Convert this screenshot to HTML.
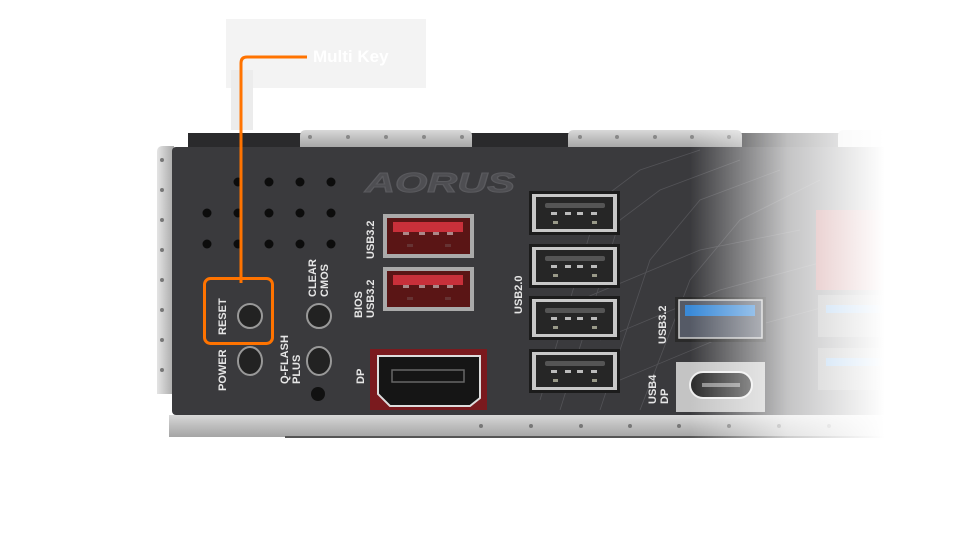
<!DOCTYPE html>
<html><head><meta charset="utf-8"><style>
html,body{margin:0;padding:0;background:#fff;width:960px;height:547px;overflow:hidden}
svg{display:block}
text{font-family:"Liberation Sans",sans-serif;font-weight:bold}
</style></head><body>
<svg width="960" height="547" viewBox="0 0 960 547" xmlns="http://www.w3.org/2000/svg">
<defs>
<linearGradient id="fade" x1="0" x2="1" y1="0" y2="0">
<stop offset="0" stop-color="#fff" stop-opacity="0"/>
<stop offset="0.5" stop-color="#fff" stop-opacity="0.7"/>
<stop offset="1" stop-color="#fff" stop-opacity="1"/>
</linearGradient>
<linearGradient id="rail" x1="0" x2="0" y1="0" y2="1">
<stop offset="0" stop-color="#d8d8d8"/><stop offset="0.5" stop-color="#bdbdbd"/><stop offset="1" stop-color="#a5a5a5"/>
</linearGradient>
<linearGradient id="flange" x1="0" x2="1">
<stop offset="0" stop-color="#e4e4e4"/><stop offset="1" stop-color="#a8a8a8"/>
</linearGradient>
<g id="usb">
<rect x="0" y="0" width="91" height="44" fill="#1c1c1c"/>
<rect x="3" y="3" width="85" height="38" fill="#c8c8c8"/>
<rect x="7" y="6" width="77" height="32" fill="#262626"/>
<rect x="16" y="12" width="60" height="5" rx="2" fill="#555"/>
<rect x="22" y="21" width="6" height="3" fill="#bbb"/><rect x="36" y="21" width="6" height="3" fill="#bbb"/><rect x="48" y="21" width="6" height="3" fill="#bbb"/><rect x="62" y="21" width="6" height="3" fill="#bbb"/>
<rect x="24" y="30" width="5" height="3" fill="#998"/><rect x="63" y="30" width="5" height="3" fill="#998"/>
</g>
<g id="rusb">
<rect x="0" y="0" width="91" height="44" fill="#aaa"/>
<rect x="4" y="4" width="83" height="36" fill="#5a1515"/>
<rect x="10" y="8" width="70" height="10" fill="#c8303a"/>
<rect x="20" y="18" width="6" height="3" fill="#a88"/><rect x="36" y="18" width="6" height="3" fill="#a88"/><rect x="50" y="18" width="6" height="3" fill="#a88"/><rect x="64" y="18" width="6" height="3" fill="#a88"/>
<rect x="24" y="30" width="6" height="3" fill="#633"/><rect x="62" y="30" width="6" height="3" fill="#633"/>
</g>
</defs>

<rect x="226" y="19" width="200" height="69" fill="#f3f3f3"/>
<rect x="231" y="70" width="22" height="60" fill="#ececec"/>

<rect x="188" y="133" width="720" height="15" fill="#2a2a2c"/>
<path d="M300 148 L300 136 Q300 130 306 130 L466 130 Q472 130 472 136 L472 148Z" fill="url(#rail)"/>
<path d="M568 148 L568 136 Q568 130 574 130 L736 130 Q742 130 742 136 L742 148Z" fill="url(#rail)"/>
<path d="M838 148 L838 136 Q838 130 844 130 L910 130 L910 148Z" fill="#ddd"/>
<g fill="#888"><circle cx="310" cy="137" r="2"/><circle cx="348" cy="137" r="2"/><circle cx="386" cy="137" r="2"/><circle cx="424" cy="137" r="2"/><circle cx="462" cy="137" r="2"/>
<circle cx="580" cy="137" r="2"/><circle cx="617" cy="137" r="2"/><circle cx="655" cy="137" r="2"/><circle cx="692" cy="137" r="2"/><circle cx="729" cy="137" r="2"/></g>

<path d="M157 152 Q157 146 163 146 L174 146 L174 394 L157 394Z" fill="url(#flange)"/>
<g fill="#777"><circle cx="162" cy="160" r="2"/><circle cx="162" cy="190" r="2"/><circle cx="162" cy="220" r="2"/><circle cx="162" cy="250" r="2"/><circle cx="162" cy="280" r="2"/><circle cx="162" cy="310" r="2"/><circle cx="162" cy="340" r="2"/><circle cx="162" cy="370" r="2"/></g>

<rect x="172" y="147" width="740" height="268" rx="4" fill="#3a3a3d"/>
<g stroke="#5a5a5e" stroke-width="0.8" fill="none" opacity="0.8">
<path d="M540 400 L600 200 L640 170 L700 150"/><path d="M560 410 L620 220 L660 190 L740 160"/><path d="M600 410 L650 260 L700 200 L780 170"/><path d="M640 410 L690 280 L740 220 L820 180"/><path d="M580 300 L700 250 L800 230"/><path d="M600 340 L720 290 L830 260"/><path d="M620 380 L740 330 L850 300"/>
</g>
<rect x="169" y="415" width="745" height="22" fill="url(#rail)"/>
<rect x="285" y="436" width="620" height="2" fill="#555"/>
<g fill="#777"><circle cx="481" cy="426" r="2"/><circle cx="531" cy="426" r="2"/><circle cx="581" cy="426" r="2"/><circle cx="630" cy="426" r="2"/><circle cx="679" cy="426" r="2"/><circle cx="729" cy="426" r="2"/><circle cx="779" cy="426" r="2"/><circle cx="829" cy="426" r="2"/></g>

<g fill="#0c0c0c">
<circle cx="238" cy="182" r="4.5"/><circle cx="269" cy="182" r="4.5"/><circle cx="300" cy="182" r="4.5"/><circle cx="331" cy="182" r="4.5"/>
<circle cx="207" cy="213" r="4.5"/><circle cx="238" cy="213" r="4.5"/><circle cx="269" cy="213" r="4.5"/><circle cx="300" cy="213" r="4.5"/><circle cx="331" cy="213" r="4.5"/>
<circle cx="207" cy="244" r="4.5"/><circle cx="238" cy="244" r="4.5"/><circle cx="269" cy="244" r="4.5"/><circle cx="300" cy="244" r="4.5"/><circle cx="331" cy="244" r="4.5"/>
</g>
<text x="365" y="192" font-size="28" font-style="italic" fill="#4e4e52" stroke="#5a5a5e" stroke-width="1" textLength="150" lengthAdjust="spacingAndGlyphs">AORUS</text>

<g stroke="#999" stroke-width="2" fill="#222">
<circle cx="250" cy="316" r="12"/><circle cx="319" cy="316" r="12"/>
<ellipse cx="250" cy="361" rx="12" ry="14"/><ellipse cx="319" cy="361" rx="12" ry="14"/>
</g>
<circle cx="318" cy="394" r="7" fill="#111"/>
<g fill="#e6e6e6" font-size="11">
<text transform="translate(226,335) rotate(-90)">RESET</text>
<text transform="translate(226,391) rotate(-90)">POWER</text>
<text transform="translate(316,297) rotate(-90)">CLEAR</text>
<text transform="translate(328,297) rotate(-90)">CMOS</text>
<text transform="translate(288,384) rotate(-90)">Q-FLASH</text>
<text transform="translate(300,384) rotate(-90)">PLUS</text>
<text transform="translate(374,259) rotate(-90)">USB3.2</text>
<text transform="translate(362,318) rotate(-90)">BIOS</text>
<text transform="translate(374,318) rotate(-90)">USB3.2</text>
<text transform="translate(364,384) rotate(-90)">DP</text>
<text transform="translate(522,314) rotate(-90)">USB2.0</text>
<text transform="translate(666,344) rotate(-90)">USB3.2</text>
<text transform="translate(656,404) rotate(-90)">USB4</text>
<text transform="translate(668,404) rotate(-90)">DP</text>
</g>

<use href="#rusb" x="383" y="214"/>
<use href="#rusb" x="383" y="267"/>
<rect x="370" y="349" width="117" height="61" fill="#7a1a1e"/>
<path d="M378 356 L480 356 L480 398 L470 406 L390 406 L378 394Z" fill="#151515" stroke="#ddd" stroke-width="2"/>
<rect x="392" y="370" width="72" height="12" fill="none" stroke="#666" stroke-width="1.5"/>
<use href="#usb" x="529" y="191"/>
<use href="#usb" x="529" y="244"/>
<use href="#usb" x="529" y="296"/>
<use href="#usb" x="529" y="349"/>
<rect x="675" y="297" width="91" height="45" fill="#2a2a2a"/>
<rect x="679" y="300" width="83" height="38" fill="#555a66" stroke="#ccc" stroke-width="1.5"/>
<rect x="685" y="305" width="70" height="11" fill="#3a8ad8"/>
<rect x="676" y="362" width="89" height="50" fill="#c4c4c4"/>
<rect x="690" y="372" width="62" height="26" rx="13" fill="#2a2a2a" stroke="#eee" stroke-width="2"/>
<rect x="702" y="383" width="38" height="4" fill="#888"/>
<rect x="816" y="210" width="92" height="80" fill="#a03030"/>
<rect x="818" y="295" width="90" height="42" fill="#666"/>
<rect x="818" y="348" width="90" height="42" fill="#666"/>
<rect x="826" y="305" width="70" height="8" fill="#3a8ad8"/>
<rect x="826" y="358" width="70" height="8" fill="#3a8ad8"/>

<rect x="690" y="120" width="195" height="330" fill="url(#fade)"/>
<rect x="884" y="120" width="76" height="330" fill="#fff"/>

<path d="M241 283 L241 63 Q241 57 247 57 L307 57" fill="none" stroke="#ff7300" stroke-width="3"/>
<rect x="204.5" y="278.5" width="68" height="65" rx="6" fill="none" stroke="#ff7300" stroke-width="3"/>
<text x="313" y="62" font-size="17" fill="#fff">Multi Key</text>
</svg>
</body></html>
